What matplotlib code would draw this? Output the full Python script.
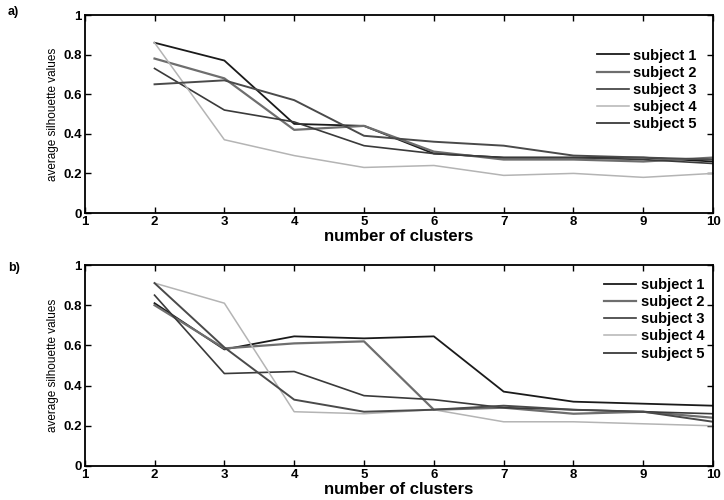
import matplotlib
matplotlib.use("Agg")
import matplotlib.pyplot as plt

plt.rcParams['font.family'] = ['Liberation Sans', 'DejaVu Sans']

clusters = [2, 3, 4, 5, 6, 7, 8, 9, 10]
subjects = ["subject 1", "subject 2", "subject 3", "subject 4", "subject 5"]
colors = ["#1a1a1a", "#6e6e6e", "#3a3a3a", "#b4b4b4", "#4a4a4a"]
widths = [1.3, 1.6, 1.2, 1.1, 1.4]

# panel a
a_s1 = [0.86, 0.77, 0.45, 0.44, 0.30, 0.28, 0.28, 0.28, 0.26]
a_s2 = [0.78, 0.68, 0.42, 0.44, 0.31, 0.27, 0.27, 0.26, 0.28]
a_s3 = [0.73, 0.52, 0.46, 0.34, 0.30, 0.28, 0.28, 0.27, 0.25]
a_s4 = [0.86, 0.37, 0.29, 0.23, 0.24, 0.19, 0.20, 0.18, 0.20]
a_s5 = [0.65, 0.67, 0.57, 0.39, 0.36, 0.34, 0.29, 0.28, 0.27]

# panel b
b_s1 = [0.81, 0.58, 0.645, 0.635, 0.645, 0.37, 0.32, 0.31, 0.30]
b_s2 = [0.80, 0.585, 0.61, 0.62, 0.28, 0.29, 0.26, 0.27, 0.24]
b_s3 = [0.85, 0.46, 0.47, 0.35, 0.33, 0.29, 0.28, 0.27, 0.26]
b_s4 = [0.91, 0.81, 0.27, 0.26, 0.28, 0.22, 0.22, 0.21, 0.20]
b_s5 = [0.91, 0.59, 0.33, 0.27, 0.28, 0.30, 0.28, 0.27, 0.22]

xticks = [1, 2, 3, 4, 5, 6, 7, 8, 9, 10]
yticks = [0, 0.2, 0.4, 0.6, 0.8, 1]
ytick_labels = ["0", "0.2", "0.4", "0.6", "0.8", "1"]


def panel(ax, series, legend_anchor):
    for ys, name, c, w in zip(series, subjects, colors, widths):
        ax.plot(clusters, ys, color=c, lw=w, label=name)
    ax.set_xlim(1, 10)
    ax.set_ylim(0, 1)
    ax.set_xticks(xticks)
    ax.set_yticks(yticks)
    ax.set_yticklabels(ytick_labels)
    ax.tick_params(direction='in', top=True, right=True, length=4, width=1,
                   labelsize=9.5, pad=2)
    for lab in ax.get_xticklabels() + ax.get_yticklabels():
        lab.set_fontweight('bold')
    for sp in ax.spines.values():
        sp.set_linewidth(1.3)
    ax.set_xlabel("number of clusters", fontsize=12, fontweight='bold', labelpad=1)
    ax.set_ylabel("average silhouette values", fontsize=8.5, labelpad=3)
    ax.legend(loc='upper right', bbox_to_anchor=legend_anchor, frameon=False,
              prop={'weight': 'bold', 'size': 10.5}, handlelength=2.2,
              handletextpad=0.3, labelspacing=0.22, borderaxespad=0)


fig = plt.figure(figsize=(7.24, 5.0), dpi=100)
ax1 = fig.add_axes([0.117, 0.574, 0.868, 0.396])
ax2 = fig.add_axes([0.117, 0.068, 0.868, 0.402])

panel(ax1, [a_s1, a_s2, a_s3, a_s4, a_s5], (0.983, 0.86))
panel(ax2, [b_s1, b_s2, b_s3, b_s4, b_s5], (0.995, 0.965))

fig.text(0.011, 0.975, "a)", fontsize=9, fontweight='bold', va='center')
fig.text(0.011, 0.465, "b)", fontsize=9, fontweight='bold', va='center')

fig.savefig("out.png", dpi=100)
